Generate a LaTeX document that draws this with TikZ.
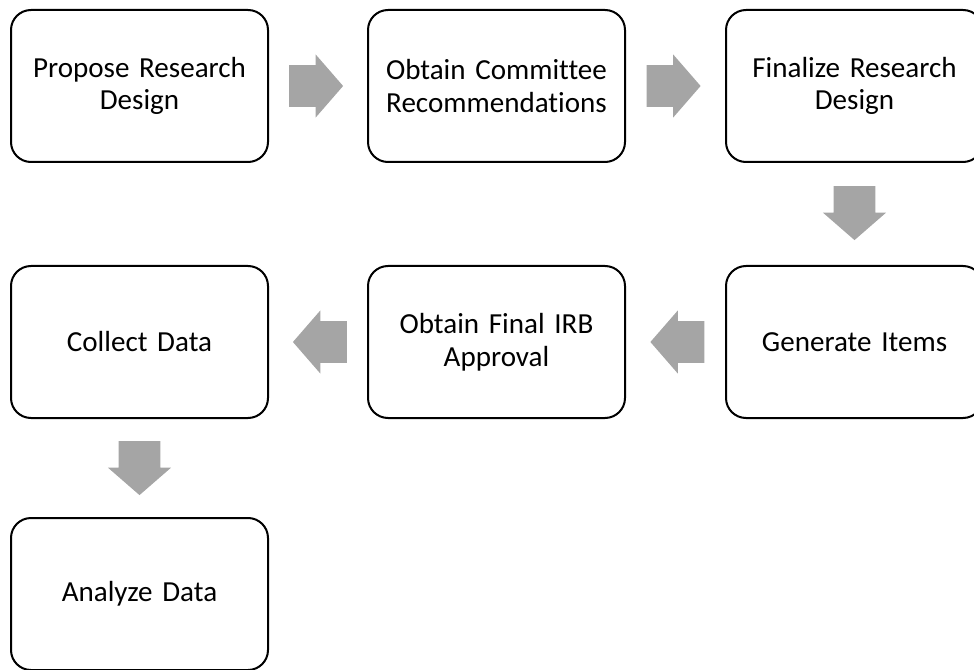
\documentclass[tikz,border=0pt]{standalone}
\usepackage{fontspec}
\setmainfont{Carlito}[Ligatures=CommonOff, WordSpace=0.75]
\usepackage{tikz}
\usetikzlibrary{calc,shapes.arrows}
\usepackage{xcolor}
\definecolor{arrow_gray}{HTML}{A5A5A5}

\begin{document}
\begin{tikzpicture}[x=0.75pt, y=-0.75pt,
	stepbox/.style={draw, line width=1.5pt, rounded corners=15pt, minimum width=192.75pt, minimum height=114pt, text width=185pt, align=center, font=\fontsize{21.8}{24.6}\selectfont},
	blockarrow/.style={single arrow, fill=arrow_gray, draw=none, minimum height=40.5pt, inner xsep=0pt, inner ysep=15.5pt, single arrow head extend=8pt, single arrow tip angle=98, single arrow head indent=0pt}]
	\useasboundingbox (0, 0) rectangle (974, 670);
	\clip (0, 0) rectangle (974, 670);
	\node[stepbox] (propose) at (139.5, 86) {Propose Research\\Design};
	\node[stepbox] (committee) at (496.5, 86) {Obtain Committee\\Recommendations};
	\node[stepbox] (finalize) at (854.5, 86) {Finalize Research\\Design};
	\node[stepbox] (items) at (854.5, 342) {Generate Items};
	\node[stepbox] (irb) at (496.5, 342) {Obtain Final IRB\\Approval};
	\node[stepbox] (collect) at (139.5, 342) {Collect Data};
	\node[stepbox] (analyze) at (139.5, 594) {Analyze Data};
	\node[blockarrow] (a1) at ($(propose.east)!0.5!(committee.west) + (-11, 0)$) {};
	\node[blockarrow] (a2) at ($(committee.east)!0.5!(finalize.west) + (-11, 0)$) {};
	\node[blockarrow, rotate=-90] (a3) at ($(finalize.south)!0.5!(items.north) + (0, -10)$) {};
	\node[blockarrow, rotate=180] (a4) at ($(items.west)!0.5!(irb.east) + (11, 0)$) {};
	\node[blockarrow, rotate=180] (a5) at ($(irb.west)!0.5!(collect.east) + (11, 0)$) {};
	\node[blockarrow, rotate=-90] (a6) at ($(collect.south)!0.5!(analyze.north) + (0, -9)$) {};
\end{tikzpicture}
\end{document}
